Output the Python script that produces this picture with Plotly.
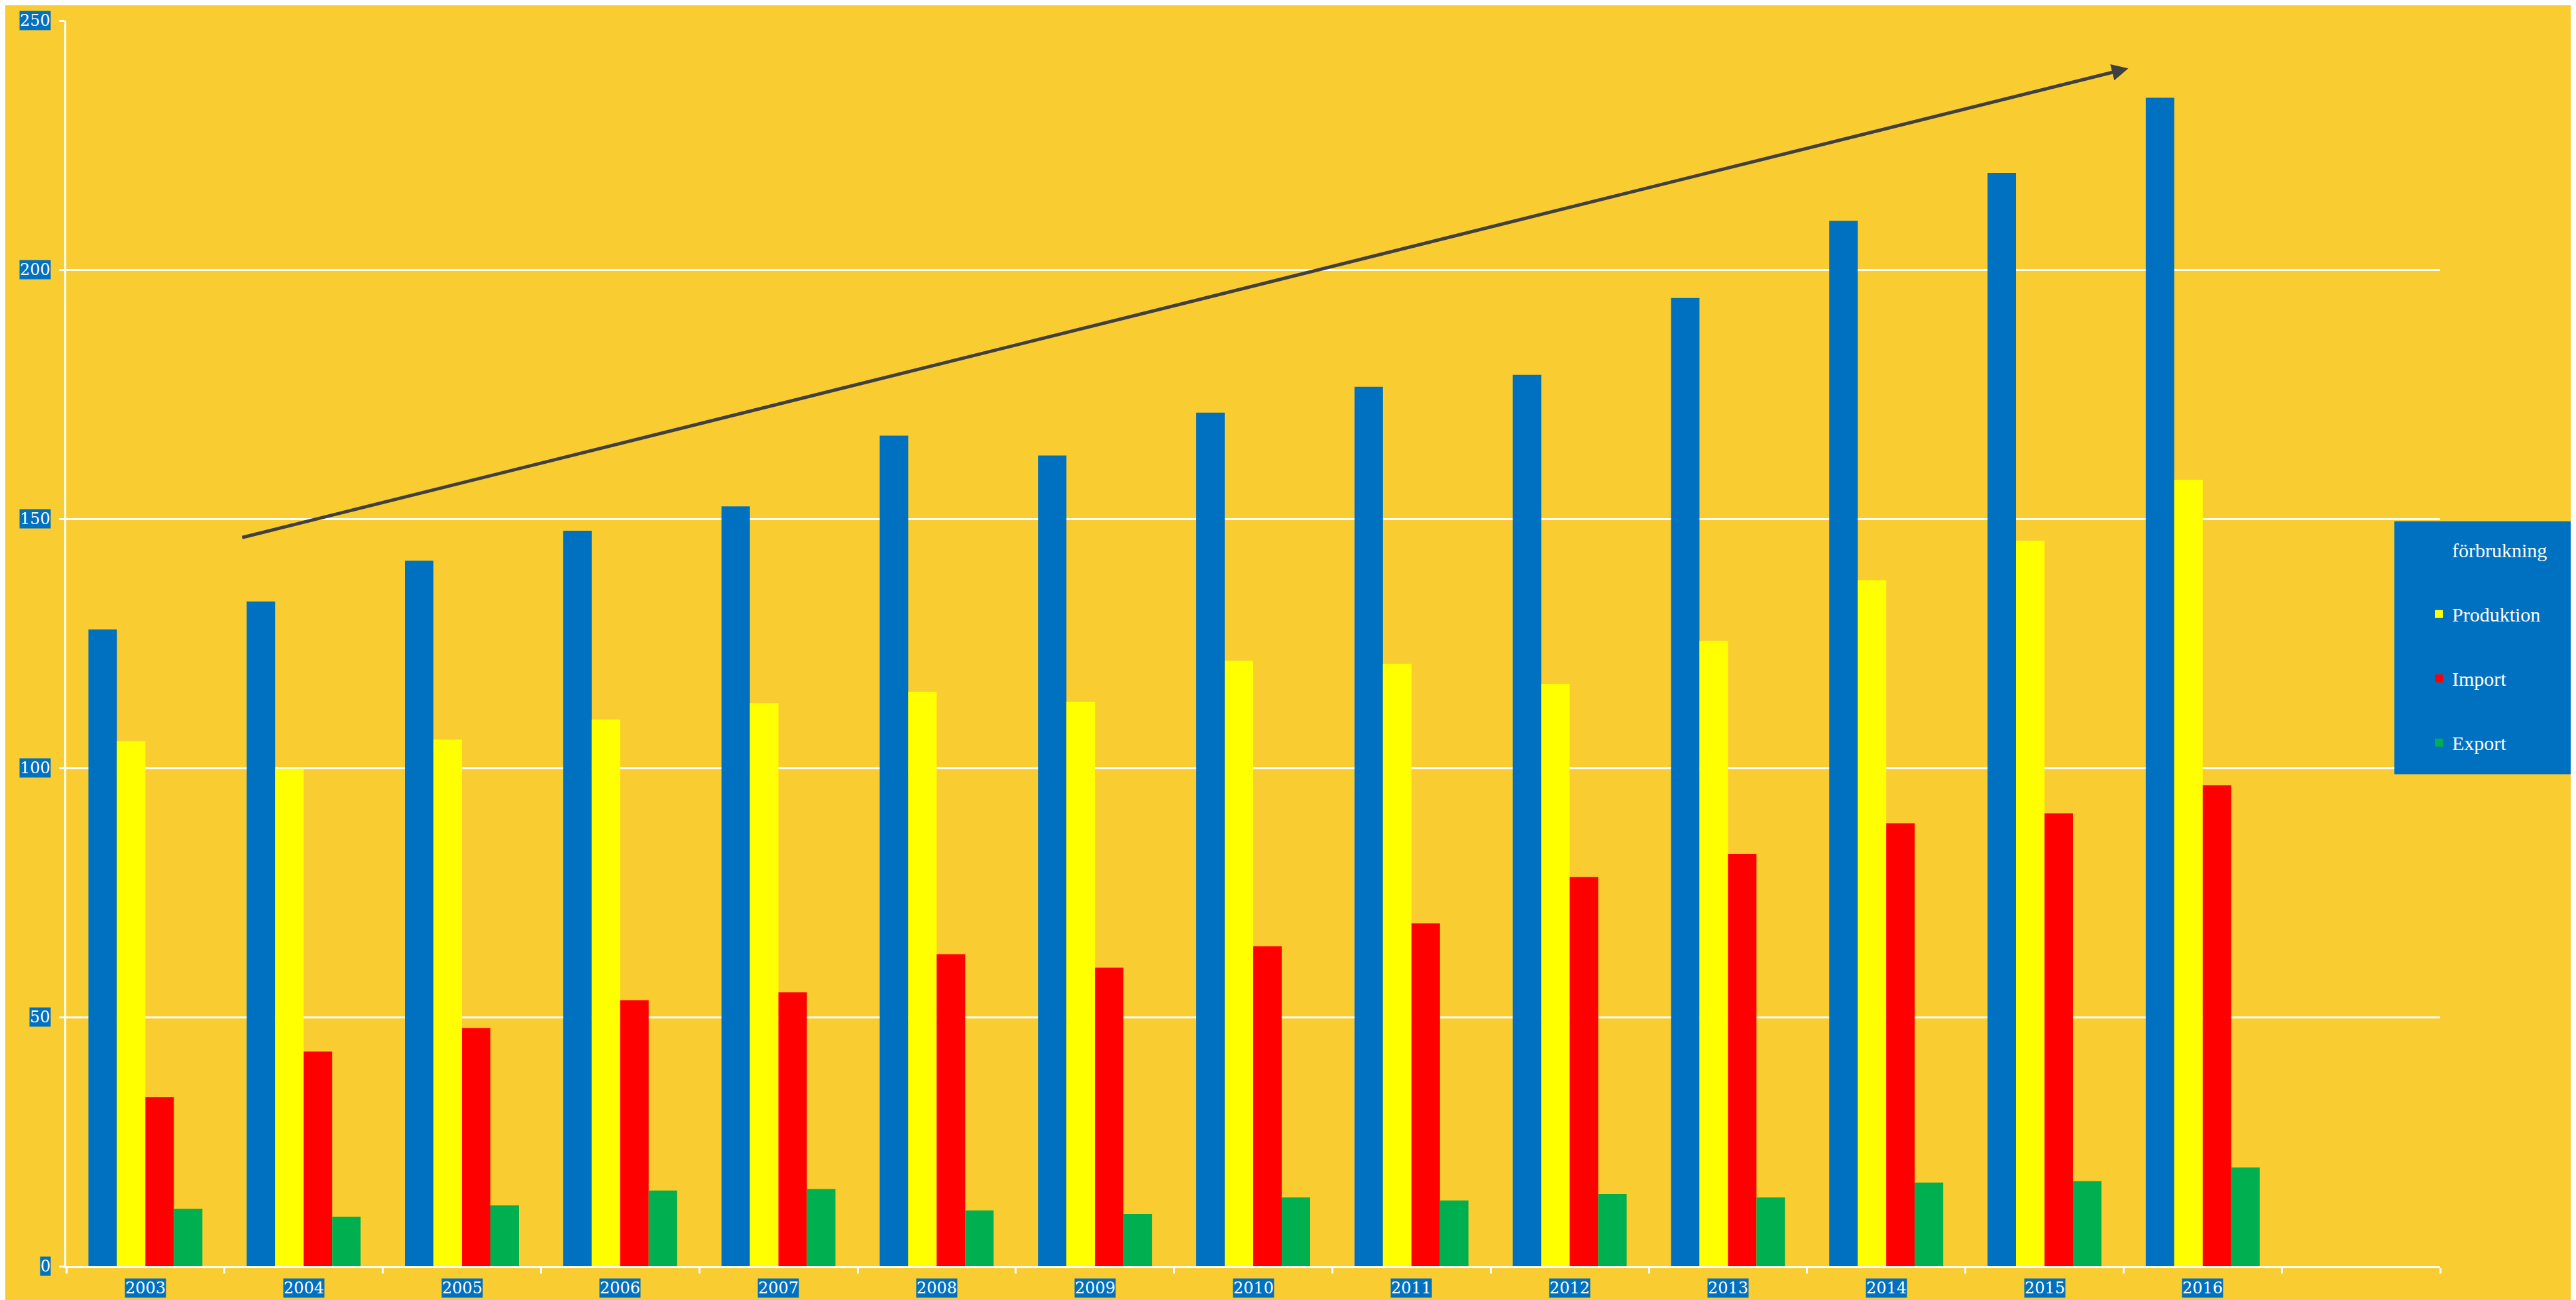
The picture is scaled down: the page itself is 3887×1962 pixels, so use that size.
import plotly.graph_objects as go

# data
years = [2003, 2004, 2005, 2006, 2007, 2008, 2009, 2010, 2011, 2012, 2013, 2014, 2015, 2016]
forbrukning = [127.8, 133.4, 141.6, 147.6, 152.5, 166.7, 162.7, 171.3, 176.5, 178.9, 194.3, 209.8, 219.4, 234.5]
produktion = [105.4, 99.8, 105.7, 109.7, 113.0, 115.3, 113.3, 121.5, 120.9, 116.9, 125.5, 137.7, 145.6, 157.8]
import_ = [33.9, 43.1, 47.8, 53.4, 55.0, 62.6, 59.9, 64.2, 68.8, 78.1, 82.7, 88.9, 90.9, 96.5]
export = [11.5, 9.9, 12.2, 15.2, 15.5, 11.2, 10.5, 13.8, 13.2, 14.5, 13.8, 16.8, 17.1, 19.8]
y_ticks = [0, 50, 100, 150, 200, 250]

series = [
    ("förbrukning", forbrukning, "#0070C0"),
    ("Produktion", produktion, "#FFFF00"),
    ("Import", import_, "#FF0000"),
    ("Export", export, "#00B050"),
]

BG = "#F9CD32"
BLUE = "#0070C0"
FONT = "DejaVu Serif"
W, H = 3879, 1954  # page body adds 8px margin

fig = go.Figure()
for name, vals, col in series:
    fig.add_trace(go.Bar(x=years, y=vals, name=name, legendgroup=name,
                         marker=dict(color=col, line=dict(width=0))))

# trend arrow (2004 -> 2016)
fig.add_annotation(x=years[0] + 12.53, y=240.4, ax=years[0] + 0.605, ay=146.2,
                   xref="x", yref="y", axref="x", ayref="y", text="",
                   showarrow=True, arrowhead=2, arrowsize=1, arrowwidth=5,
                   arrowcolor="#404040")

# tick labels on blue boxes
for yr in years:
    fig.add_annotation(x=yr, y=0, xref="x", yref="paper", yanchor="middle",
                       yshift=-33, text=str(yr), showarrow=False,
                       bgcolor=BLUE, borderpad=0,
                       font=dict(family=FONT, size=24, color="white"))
for v in y_ticks:
    fig.add_annotation(x=0, y=v, xref="paper", yref="y", xanchor="right",
                       xshift=-23, text=str(v), showarrow=False,
                       bgcolor=BLUE, borderpad=0,
                       font=dict(family=FONT, size=24, color="white"))

# legend box
fig.add_shape(type="rect", xref="paper", yref="paper", x0=0.9807, x1=1.1,
              y0=0.395, y1=0.598, fillcolor=BLUE, line=dict(width=0), layer="above")

fig.update_layout(
    width=W, height=H,
    paper_bgcolor=BG, plot_bgcolor=BG,
    margin=dict(l=92, r=205, t=23, b=51, autoexpand=False),
    barmode="group", bargap=0.28, bargroupgap=0,
    legend=dict(x=3652 / W, xref="container", xanchor="left", y=0.589, yanchor="top",
                bgcolor="rgba(0,0,0,0)", traceorder="grouped", tracegroupgap=55,
                font=dict(family="Liberation Serif", size=30, color="white")),
    xaxis=dict(range=[years[0] - 0.5, years[-1] + 1.5], showgrid=False,
               tickvals=[y - 0.5 for y in years + [years[-1] + 1, years[-1] + 2]],
               showticklabels=False, ticks="outside", ticklen=8, tickwidth=2.5,
               tickcolor="white", showline=True, linecolor="white", linewidth=2.5,
               zeroline=False),
    yaxis=dict(range=[0, 250], tickvals=y_ticks, showticklabels=False,
               showgrid=True, gridcolor="white", gridwidth=2.5,
               ticks="outside", ticklen=8, tickwidth=2.5, tickcolor="white",
               showline=True, linecolor="white", linewidth=2.5, zeroline=False),
)

fig.write_html("out.html")
